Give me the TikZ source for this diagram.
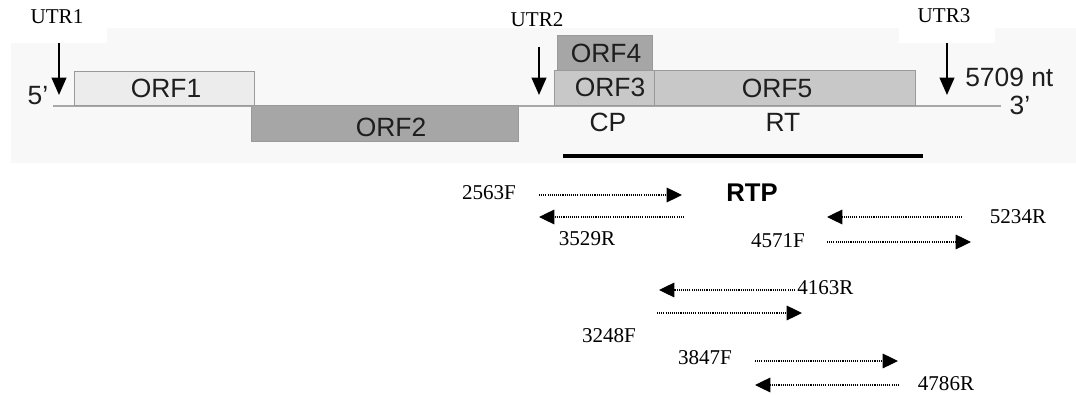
\documentclass[tikz,border=0pt]{standalone}
\usepackage{fontspec}
\setmainfont{Liberation Serif}
\newfontfamily\arialf{Liberation Sans}
\usetikzlibrary{arrows.meta}
\definecolor{panelgray}{HTML}{F8F8F8}
\definecolor{orfborder}{HTML}{9A9A9A}
\definecolor{orfone}{HTML}{ECECEC}
\definecolor{orftwo}{HTML}{A6A6A6}
\definecolor{orfthree}{HTML}{C8C8C8}
\definecolor{genomeline}{HTML}{A8A8A8}
\definecolor{textdark}{HTML}{1E1E1E}
\begin{document}
\begin{tikzpicture}[x=0.75pt,y=-0.75pt,
  sans/.style={font=\arialf\fontsize{19.8pt}{22pt}\selectfont, text=textdark, inner sep=0pt, anchor=base},
  sansbold/.style={font=\arialf\bfseries\fontsize{19.2pt}{22pt}\selectfont, text=black, inner sep=0pt, anchor=base},
  serif/.style={font=\fontsize{15.8pt}{18pt}\selectfont, text=black, inner sep=0pt, anchor=base},
  orfbox/.style={draw=orfborder, line width=0.75pt, inner sep=0pt, outer sep=0pt, anchor=north west},
  utrarrow/.style={line width=1.5pt, -{Triangle[length=13pt,width=11pt]}},
  primer/.style={line width=0.9pt, dash pattern=on 0.8pt off 0.8pt, -{Triangle[length=11.5pt,width=11pt]}},
]
\useasboundingbox (0,0) rectangle (1076,395);
% background panel
\fill[panelgray] (11,28) rectangle (1076,163);
\fill[white] (0,0) rectangle (107,43);
\fill[white] (899,0) rectangle (995,43);
% genome line
\coordinate (g5) at (53,106);
\coordinate (g3) at (1001,106);
\draw[draw=genomeline, line width=0.9pt] (g5) -- (g3);
% ORF boxes
\node[orfbox, fill=orftwo, minimum width=200.25pt, minimum height=27pt] (orf2box) at (251,106) {};
\node[orfbox, fill=orfone, minimum width=135pt, minimum height=25.5pt] (orf1box) at (74,72) {};
\node[orfbox, fill=orftwo, minimum width=71.25pt, minimum height=26.25pt] (orf4box) at (557,36) {};
\node[orfbox, fill=orfthree, minimum width=75pt, minimum height=26.25pt] (orf3box) at (554,71) {};
\node[orfbox, fill=orfthree, minimum width=195.75pt, minimum height=26.25pt] (orf5box) at (654,71) {};
% ORF labels
\node[sans] (orf1) at (166,98) {ORF1};
\node[sans] (orf2) at (391,137) {ORF2};
\node[sans] (orf4) at (606,63) {ORF4};
\node[sans] (orf3) at (610,97) {ORF3};
\node[sans] (orf5) at (777,98) {ORF5};
\node[sans] (cp) at (608,132) {CP};
\node[sans] (rt) at (783,132) {RT};
\node[sans] (five) at (38,105) {5’};
\node[sans] (three) at (1020,115) {3’};
\node[sans, anchor=base west] (len) at (965,87) {5709 nt};
% RTP region bar
\coordinate (barL) at (563,156);
\coordinate (barR) at (923,156);
\draw[line width=3pt] (barL) -- (barR);
% UTR labels and arrows
\node[serif] (utr1) at (57,24) {UTR1};
\node[serif] (utr2) at (537,27) {UTR2};
\node[serif] (utr3) at (944,23) {UTR3};
\coordinate (u1top) at (59,43);  \coordinate (u1tip) at (59,95);
\coordinate (u2top) at (539,47); \coordinate (u2tip) at (539,95);
\coordinate (u3top) at (947,43); \coordinate (u3tip) at (947,95);
\draw[utrarrow] (u1top) -- (u1tip);
\draw[utrarrow] (u2top) -- (u2tip);
\draw[utrarrow] (u3top) -- (u3tip);
% primers
\node[sansbold] (rtp) at (752,202) {RTP};
\node[serif] (p2563) at (489,200) {2563F};
\node[serif] (p3529) at (587,246) {3529R};
\node[serif] (p5234) at (1018,224) {5234R};
\node[serif] (p4571) at (778,248) {4571F};
\node[serif, anchor=base west] (p4163) at (797,295) {4163R};
\node[serif] (p3248) at (609,343) {3248F};
\node[serif] (p3847) at (705,365) {3847F};
\node[serif] (p4786) at (946,391) {4786R};
\coordinate (a1s) at (539,195); \coordinate (a1e) at (682,195);
\coordinate (a2s) at (684,217); \coordinate (a2e) at (539,217);
\coordinate (a3s) at (962,217); \coordinate (a3e) at (827,217);
\coordinate (a4s) at (827,242); \coordinate (a4e) at (971,242);
\coordinate (a5s) at (795,290); \coordinate (a5e) at (659,290);
\coordinate (a6s) at (657,313); \coordinate (a6e) at (802,313);
\coordinate (a7s) at (755,361); \coordinate (a7e) at (898,361);
\coordinate (a8s) at (899,385); \coordinate (a8e) at (755,385);
\draw[primer] (a1s) -- (a1e);
\draw[primer] (a2s) -- (a2e);
\draw[primer] (a3s) -- (a3e);
\draw[primer] (a4s) -- (a4e);
\draw[primer] (a5s) -- (a5e);
\draw[primer] (a6s) -- (a6e);
\draw[primer] (a7s) -- (a7e);
\draw[primer] (a8s) -- (a8e);
\end{tikzpicture}
\end{document}
